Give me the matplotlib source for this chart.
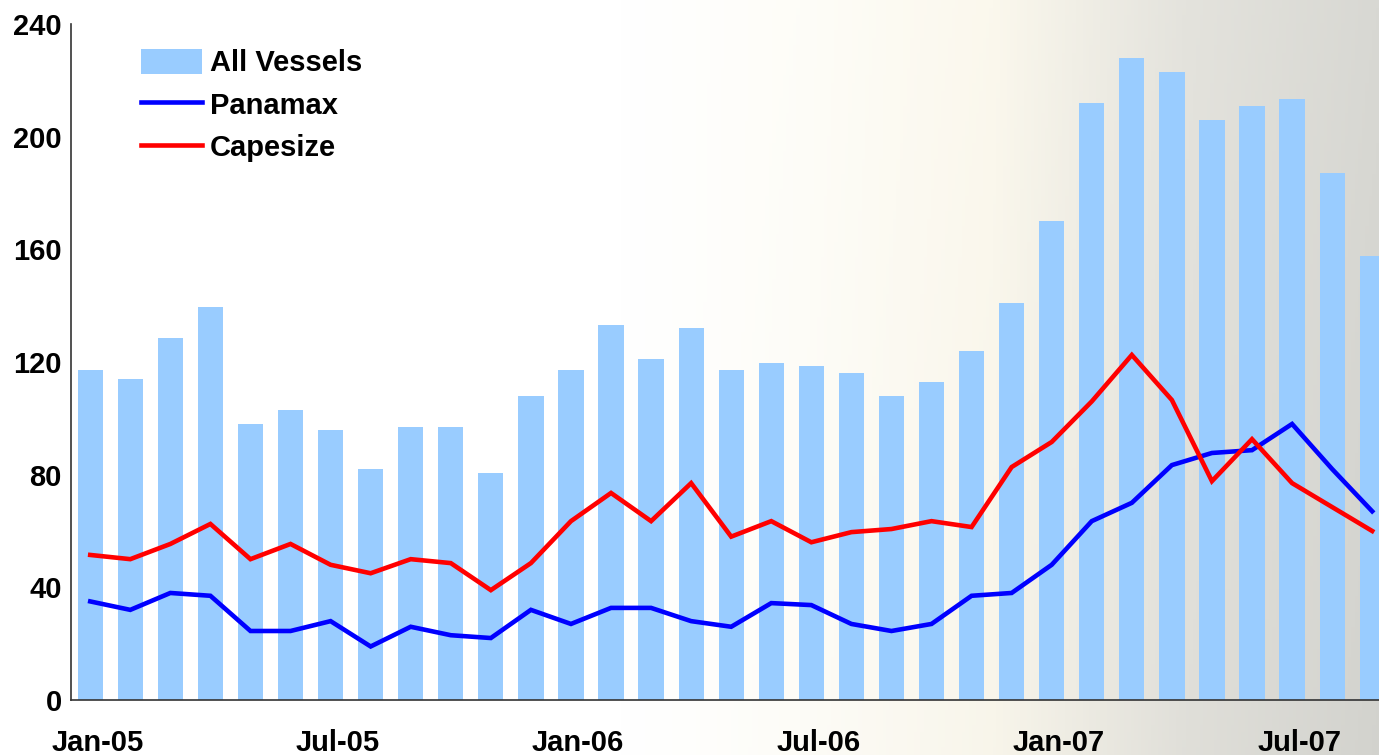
"""
Dry bulk vessel chart: All Vessels (bars), Panamax / Capesize (lines), Jan-05 .. Sep-07
"""
import numpy as np
import matplotlib
matplotlib.use("Agg")
import matplotlib.pyplot as plt
from matplotlib.patches import Patch
from matplotlib.lines import Line2D

plt.rcParams["font.family"] = ["Liberation Sans", "DejaVu Sans"]
plt.rcParams["font.weight"] = "bold"

# ── data ──
months = ["Jan-05", "Feb-05", "Mar-05", "Apr-05", "May-05", "Jun-05",
          "Jul-05", "Aug-05", "Sep-05", "Oct-05", "Nov-05", "Dec-05",
          "Jan-06", "Feb-06", "Mar-06", "Apr-06", "May-06", "Jun-06",
          "Jul-06", "Aug-06", "Sep-06", "Oct-06", "Nov-06", "Dec-06",
          "Jan-07", "Feb-07", "Mar-07", "Apr-07", "May-07", "Jun-07",
          "Jul-07", "Aug-07", "Sep-07"]
all_vessels = [117, 114, 128.5, 139.5, 98, 103, 96, 82, 97, 97, 80.5, 108,
               117, 133, 121, 132, 117, 119.5, 118.5, 116, 108, 113, 124, 141,
               170, 212, 228, 223, 206, 211, 213.5, 187, 157.5]
panamax = [35, 32, 38, 37, 24.5, 24.5, 28, 19, 26, 23, 22, 32,
           27, 32.7, 32.7, 28, 26, 34.4, 33.7, 27, 24.5, 27, 37, 38,
           48, 63.5, 70, 83.4, 87.7, 88.7, 98, 82, 67]
capesize = [51.5, 50, 55.4, 62.5, 50, 55.4, 48, 45, 50, 48.6, 39, 48.6,
            63.5, 73.5, 63.5, 77, 58, 63.5, 56, 59.6, 60.7, 63.5, 61.4, 82.7,
            91.6, 106, 122.5, 106.5, 77.7, 92.6, 77, 68.5, 60]
tick_every = 6

W, H, DPI = 1379, 755, 100
FS = 21
fig = plt.figure(figsize=(W / DPI, H / DPI), dpi=DPI)

# ── 背景渐变 (白 -> 米色 -> 灰) ──
bg_ax = fig.add_axes([0, 0, 1, 1], zorder=0)
xs = np.linspace(0, 1, 400)
ys = np.linspace(0, 1, 100)
stops_x = [0.0, 0.45, 0.58, 0.72, 0.86, 1.0]
stops_c = np.array([[255, 255, 255], [255, 255, 255], [254, 253, 248],
                    [251, 248, 237], [228, 227, 221], [216, 216, 211]]) / 255.0
grad = np.zeros((len(ys), len(xs), 3))
for k in range(3):
    row = np.interp(xs, stops_x, stops_c[:, k])
    # 下方略暗一点
    dark = 1 - 0.025 * np.outer(ys, np.clip((xs - 0.5) * 2, 0, 1))
    grad[:, :, k] = row[None, :] * dark
bg_ax.imshow(grad, aspect="auto", extent=[0, 1, 0, 1], origin="upper")
bg_ax.axis("off")

# ── 主图 ──
left = 71 / W
bottom = (H - 700) / H
top = (H - 24) / H
ax = fig.add_axes([left, bottom, 1 - left, top - bottom], zorder=1)
ax.patch.set_alpha(0)

x = np.arange(len(months))
ax.bar(x, all_vessels, width=0.63, color="#99CCFF", zorder=2)
ax.plot(x, panamax, color="#0000FF", lw=3.3, zorder=3, solid_joinstyle="miter")
ax.plot(x, capesize, color="#FF0000", lw=3.3, zorder=4, solid_joinstyle="miter")

ax.set_xlim(-0.48, 32.17)
ax.set_ylim(0, 240)
ax.set_yticks(np.arange(0, 241, 40))
ax.set_xticks(x[::tick_every] + 0.18)
ax.set_xticklabels(months[::tick_every])
ax.tick_params(axis="both", length=0, labelsize=FS)
ax.tick_params(axis="x", pad=21)
ax.tick_params(axis="y", pad=6.5)
for s in ["top", "right"]:
    ax.spines[s].set_visible(False)
for s in ["left", "bottom"]:
    ax.spines[s].set_color("#333333")
    ax.spines[s].set_linewidth(1.2)

handles = [Patch(facecolor="#99CCFF", edgecolor="none"),
           Line2D([0], [0], color="#0000FF", lw=3.3),
           Line2D([0], [0], color="#FF0000", lw=3.3)]
leg = ax.legend(handles, ["All Vessels", "Panamax", "Capesize"],
                loc="upper left", bbox_to_anchor=(0.0443, 0.981), frameon=False,
                fontsize=FS, handlelength=2.1, handleheight=0.95,
                handletextpad=0.28, labelspacing=0.48, borderaxespad=0)

fig.savefig("out.png", dpi=DPI)
